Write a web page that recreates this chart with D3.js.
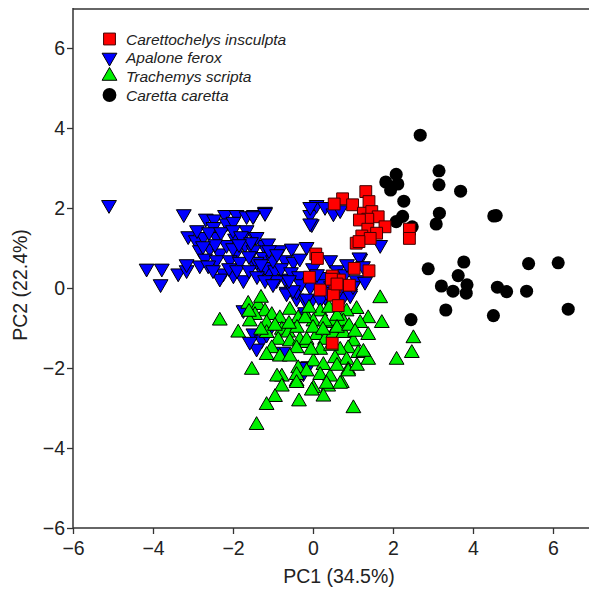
<!DOCTYPE html>
<html>
<head>
<meta charset="utf-8">
<script src="https://cdn.jsdelivr.net/npm/d3@7"></script>
<style>
  body { margin: 0; background: #fff; }
  text { font-family: "Liberation Sans", Arial, sans-serif; }
</style>
</head>
<body>
<script>
var W = 589, H = 589;

// species names, legend order
var species = ["Carettochelys insculpta", "Apalone ferox", "Trachemys scripta", "Caretta caretta"];

var xTicks = [-6, -4, -2, 0, 2, 4, 6];
var yTicks = [-6, -4, -2, 0, 2, 4, 6];

// Carettochelys insculpta (red squares)
var carettochelys = [
  [1.32,2.41],[0.74,2.23],[0.53,2.1],[0.99,2.08],[1.4,2.16],[1.26,1.87],[1.47,1.91],[1.63,1.78],
  [1.37,1.72],[1.16,1.7],[1.8,1.53],[1.37,1.47],[1.59,1.37],[1.22,1.3],[1.43,1.24],[1.08,1.12],
  [1.15,1.16],[2.41,1.47],[2.41,1.24],[0.07,0.85],[0.11,0.74],[1.03,0.49],[1.4,0.43],[-0.09,0.27],
  [0.48,0.3],[0.66,0.2],[0.91,0.07],[0.55,0.03],[0.18,-0.05],[0.51,-0.18],[0.63,-0.44],[0.48,-1.38],
  [0.46,0.22],[0.6,0.1]
];

// Apalone ferox (blue down triangles)
var apalone = [
  [-5.1,2.08],[-3.23,1.85],[-2.68,1.74],[-2.47,1.72],[-2.2,1.83],[-1.91,1.83],[-1.66,1.8],[-1.48,1.83],[-1.2,1.91],
  [-3.12,1.3],[-2.93,1.2],[-2.74,1.28],[-2.49,1.53],[-2.41,1.28],[-2.16,1.62],[-1.99,1.66],[-1.95,1.24],[-1.66,1.45],
  [-1.45,1.28],[-1.24,1.08],[-2.83,0.95],[-2.58,0.99],[-2.33,0.87],[-2.16,1.08],[-1.91,0.91],[-1.7,1.08],[-1.49,0.95],
  [-1.24,0.78],[-2.7,0.74],[-2.41,0.7],[-2.08,0.7],[-1.83,0.66],[-1.49,0.66],[-2.83,0.57],[-2.62,0.57],[-2.24,0.37],
  [-1.99,0.32],[-1.74,0.2],[-2.33,0.24],[-1.28,0.45],[-1.1,0.4],[-4.16,0.49],[-3.78,0.49],[-3.81,0.1],[-3.37,0.37],
  [-3.16,0.45],[-3.16,0.6],[-1.2,1.88],[-1.5,1.8],[-0.07,1.83],[-0.03,1.6],[0.09,2.08],[0.3,2.03],[0.51,1.87],[0.68,1.95],
  [-1.41,1.28],[-1.12,1.12],[-0.83,0.95],[-0.53,0.99],[-0.16,1.03],[-1.41,0.66],[-1.2,0.53],[-0.95,0.45],[-0.7,0.7],
  [-0.49,0.66],[-0.33,0.74],[-0.7,0.24],[-0.91,0.2],[-0.66,-0.09],[-0.41,-0.26],[-0.07,0.03],[-0.2,-0.3],[-0.03,-0.3],
  [0.22,0.28],[0.43,0.7],[1.18,0.74],[1.09,0.2],[0.93,-0.13],[0.3,-0.22],[0.76,-0.22],[1.3,0.16],
  [-1.74,-0.55],[-1.49,-1.13],[-1.28,-1.3],[-1.41,-1.51],[-1.58,-1.34],[-1.16,-1.16],[-0.66,-0.13],[-0.41,-0.09],
  [-0.2,-0.6],[-0.74,-1.59],[-0.24,-2.13],[-0.12,-1.95],[-0.16,-0.26],[0.18,-0.3],[0.93,-0.18],[-0.24,-1.97],
  [1.68,1.08],[1.16,0.77],[-0.07,2.03],[-0.07,1.62],
  [-2.9,1.45],[-2.6,1.4],[-2.3,1.4],[-2.0,1.45],[-1.8,1.3],[-1.55,1.15],[-2.45,1.1],[-2.0,1.0],[-1.6,0.8],[-2.5,0.45],
  [-2.1,0.5],[-1.9,0.45],[-1.6,0.45],[-1.4,0.3],[-1.2,0.2],[-1.0,0.1],[-0.8,0.5],[-0.55,0.4],[-0.35,0.3],[-0.3,0.1],
  [-0.5,-0.05],[-1.0,0.7],[-1.1,0.95],[0.0,0.5],[0.2,0.1],[0.45,0.05],[0.6,0.45],[0.8,0.35],[1.0,0.05],[0.65,-0.05],
  [-2.75,1.05],[-1.85,1.1],[-1.3,0.6],[-0.9,0.85],[-0.6,0.2],[0.1,0.35],[0.35,-0.1],[1.25,0.55],[0.85,0.6]
];

// Trachemys scripta (green up triangles)
var trachemys = [
  [-2.33,-0.82],[-1.62,-0.4],[-1.37,-0.43],[-1.2,-0.59],[-1.45,-0.68],[-1.03,-0.68],[-0.83,-0.76],[-0.58,-0.55],
  [-0.37,-0.76],[-0.16,-0.72],[-1.58,-0.84],[-1.16,-0.88],[-1.87,-1.12],[-1.16,-1.13],[-0.78,-1.05],[-0.62,-1.12],
  [-0.87,-1.3],[-0.58,-1.34],[-0.33,-1.3],[-0.16,-1.38],[-1.03,-1.51],[-0.41,-1.51],[-0.83,-1.72],[-0.58,-1.72],
  [-1.16,-1.68],[-1.53,-2.05],[-0.37,-2.01],[-0.78,-2.22],[-0.9,-2.22],[-0.41,-2.34],[-0.78,-2.47],
  [1.68,-0.26],[1.38,-0.76],[1.72,-0.88],[1.38,-1.18],[1.18,-0.88],[1.09,-0.53],[0.84,-0.59],[0.76,-0.84],[0.51,-0.88],
  [0.18,-0.59],[0.01,-0.84],[-0.2,-0.76],[0.3,-0.84],[0.09,-1.18],[-0.16,-1.3],[0.3,-1.3],[0.51,-1.13],[0.76,-1.13],
  [1.01,-1.34],[0.88,-1.51],[1.13,-1.63],[1.38,-1.8],[1.26,-1.6],[0.18,-1.55],[0.68,-1.55],[0.55,-1.76],[0.84,-1.8],
  [0.01,-1.84],[0.26,-1.93],[0.88,-2.05],[0.18,-2.18],[0.43,-2.22],[0.72,-2.38],[-0.16,-2.09],[0.01,-2.51],[0.38,-2.47],
  [2.09,-1.8],[2.47,-1.63],[2.51,-1.26],[-0.41,-2.18],[0.88,-2.09],[-0.41,-2.38],[0.34,-2.4],[0.68,-2.4],[-0.03,-2.57],
  [-0.95,-2.73],[0.26,-2.72],[-1.16,-2.93],[-0.35,-2.84],[1.01,-3.01],[-1.41,-3.43],
  [-0.1,-0.5],[0.4,-0.5],[0.6,-0.7],[-0.4,-1.0],[0.0,-1.0],[0.25,-1.05],[0.6,-1.0],[0.9,-0.95],[-0.6,-0.9],[-0.05,-1.55],
  [0.45,-1.45],[1.05,-1.1],[-1.3,-1.05],[-0.95,-0.95],[1.1,-1.95],[0.6,-1.95],[-1.3,-0.25],[-1.6,-0.6]
];

// Caretta caretta (black circles)
var caretta = [
  [2.68,3.82],[3.15,2.93],[3.15,2.58],[3.69,2.42],[2.08,2.84],[1.82,2.65],[2.12,2.6],[1.94,2.45],[2.27,2.17],
  [2.24,1.79],[2.08,1.66],[2.48,1.53],[3.16,1.87],[3.08,1.6],[4.52,1.8],[4.58,1.81],[2.88,0.48],[3.77,0.65],
  [3.63,0.31],[5.39,0.61],[6.13,0.63],[3.21,0.05],[3.5,-0.08],[3.85,0.08],[3.83,-0.13],[4.61,0.02],[4.84,-0.09],
  [5.34,-0.08],[3.32,-0.55],[4.51,-0.69],[6.38,-0.53],[2.45,-0.79]
];

var svg = d3.select("body").append("svg")
    .attr("width", W)
    .attr("height", H);

// scales
var x = d3.scaleLinear().domain([-6, 7]).range([73, 593]);
var y = d3.scaleLinear().domain([-6, 7]).range([528, 8]);

var triSize = 95, sqSize = 140, circSize = 135;

var styles = {
  "Carettochelys insculpta": { sym: d3.symbolSquare, size: sqSize, fill: "#ff0000", stroke: "#400000", rot: 0 },
  "Apalone ferox": { sym: d3.symbolTriangle, size: triSize, fill: "#0000ff", stroke: "#000", rot: 180 },
  "Trachemys scripta": { sym: d3.symbolTriangle, size: triSize, fill: "#00f000", stroke: "#000", rot: 0 },
  "Caretta caretta": { sym: d3.symbolCircle, size: circSize, fill: "#000", stroke: "none", rot: 0 }
};

function drawSeries(pts, name) {
  var st = styles[name];
  var path = d3.symbol().type(st.sym).size(st.size)();
  svg.append("g").selectAll("path")
    .data(pts)
    .enter()
    .append("path")
    .attr("d", path)
    .attr("transform", function(d) {
      return "translate(" + x(d[0]) + "," + y(d[1]) + ")" + (st.rot ? " rotate(" + st.rot + ")" : "");
    })
    .style("fill", st.fill)
    .style("stroke", st.stroke)
    .style("stroke-width", 1);
}

// drawing order: blue under green, black, red on top
drawSeries(apalone, "Apalone ferox");
drawSeries(trachemys, "Trachemys scripta");
drawSeries(caretta, "Caretta caretta");
drawSeries(carettochelys, "Carettochelys insculpta");

// axes
var fmt = function(d) { return d < 0 ? "\u2212" + Math.abs(d) : d; };

var xAxis = svg.append("g")
    .attr("transform", "translate(0," + y(-6) + ")")
    .call(d3.axisBottom(x).tickValues(xTicks).tickSize(6).tickFormat(fmt));

var yAxis = svg.append("g")
    .attr("transform", "translate(" + x(-6) + ",0)")
    .call(d3.axisLeft(y).tickValues(yTicks).tickSize(6).tickFormat(fmt));

[xAxis, yAxis].forEach(function(a) {
  a.select(".domain").remove();
  a.selectAll("line").style("stroke", "#333").style("stroke-width", 1.3);
  a.selectAll("text").style("font-size", "19.5px").style("fill", "#222")
    .style("font-family", "'Liberation Sans', Arial, sans-serif");
});
xAxis.selectAll("text").attr("dy", "0.9em");
yAxis.selectAll("text").attr("x", -8);

// frame: left, bottom, top
svg.append("line").attr("x1", x(-6)).attr("x2", x(-6)).attr("y1", y(7)).attr("y2", y(-6))
  .style("stroke", "#333").style("stroke-width", 1.5);
svg.append("line").attr("x1", x(-6)).attr("x2", W).attr("y1", y(-6)).attr("y2", y(-6))
  .style("stroke", "#333").style("stroke-width", 1.5);
svg.append("line").attr("x1", x(-6)).attr("x2", W).attr("y1", y(7) + 1).attr("y2", y(7) + 1)
  .style("stroke", "#333").style("stroke-width", 1.5);

// axis titles
svg.append("text")
  .attr("x", 339).attr("y", 583)
  .attr("text-anchor", "middle")
  .style("font-size", "19.5px").style("fill", "#222")
  .text("PC1 (34.5%)");

svg.append("text")
  .attr("transform", "translate(27,285) rotate(-90)")
  .attr("text-anchor", "middle")
  .style("font-size", "19.5px").style("fill", "#222")
  .text("PC2 (22.4%)");

// legend
var legend = svg.append("g");
var rowY = [39, 57.5, 76, 95];
species.forEach(function(name, i) {
  var st = styles[name];
  var size = name === "Caretta caretta" ? 150 : st.size;
  legend.append("path")
    .attr("d", d3.symbol().type(st.sym).size(size)())
    .attr("transform", "translate(109.5," + rowY[i] + ")" + (st.rot ? " rotate(" + st.rot + ")" : ""))
    .style("fill", st.fill)
    .style("stroke", st.stroke)
    .style("stroke-width", 1);
  legend.append("text")
    .attr("x", 126).attr("y", rowY[i] + 5.5)
    .style("font-size", "15.5px").style("font-style", "italic").style("fill", "#222")
    .text(name);
});
</script>
</body>
</html>
